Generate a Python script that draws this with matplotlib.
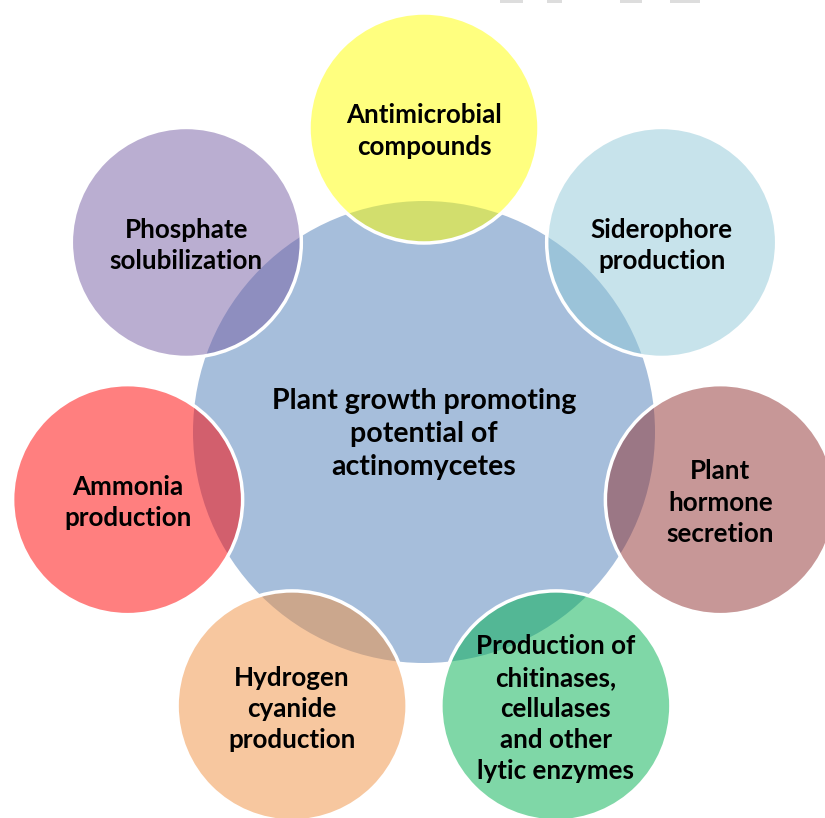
import numpy as np
import matplotlib.pyplot as plt
from matplotlib.colors import to_rgb
from matplotlib.patches import Circle, Rectangle

center_label = "Plant growth promoting\npotential of\nactinomycetes"
center_color = "#A6BEDB"

labels = [
    "Antimicrobial\ncompounds",
    "Siderophore\nproduction",
    "Plant\nhormone\nsecretion",
    "Production of\nchitinases,\ncellulases\nand other\nlytic enzymes",
    "Hydrogen\ncyanide\nproduction",
    "Ammonia\nproduction",
    "Phosphate\nsolubilization",
]
colors = ["#FFFF00", "#91C9D9", "#913131", "#01B151", "#F19141", "#FF0101", "#775FA5"]

W, H = 825, 818
fig = plt.figure(figsize=(W / 100, H / 100), dpi=100)
ax = fig.add_axes([0, 0, 1, 1])
ax.set_xlim(0, W)
ax.set_ylim(H, 0)
ax.set_aspect("equal")
ax.axis("off")

cx, cy = 424, 432
ax.add_patch(Circle((cx, cy), 231, facecolor=center_color, edgecolor="none", zorder=1))
ax.text(cx, cy + 2, center_label, ha="center", va="center", fontsize=20.5,
        fontweight="bold", family="Lato", linespacing=1.33, zorder=5)

n = len(labels)
dist, rad = 304, 115
for i, (lab, col) in enumerate(zip(labels, colors)):
    a = 2 * np.pi * i / n
    x = cx + dist * np.sin(a)
    y = cy - dist * np.cos(a)
    ax.add_patch(Circle((x, y), rad, facecolor=(*to_rgb(col), 0.5),
                        edgecolor="none", zorder=2))
    ax.add_patch(Circle((x, y), rad, facecolor="none", edgecolor="white", lw=2.5, zorder=3))
    ax.text(x, y + 3, lab, ha="center", va="center", fontsize=18.7,
            fontweight="bold", family="Lato", linespacing=1.36, zorder=5)

# faint grey fragments along the top edge
for x0, w in [(500, 23), (547, 15), (620, 22), (670, 30)]:
    ax.add_patch(Rectangle((x0, 0), w, 3, facecolor="#DDDDDD", edgecolor="none"))

fig.savefig("out.png", dpi=100)
